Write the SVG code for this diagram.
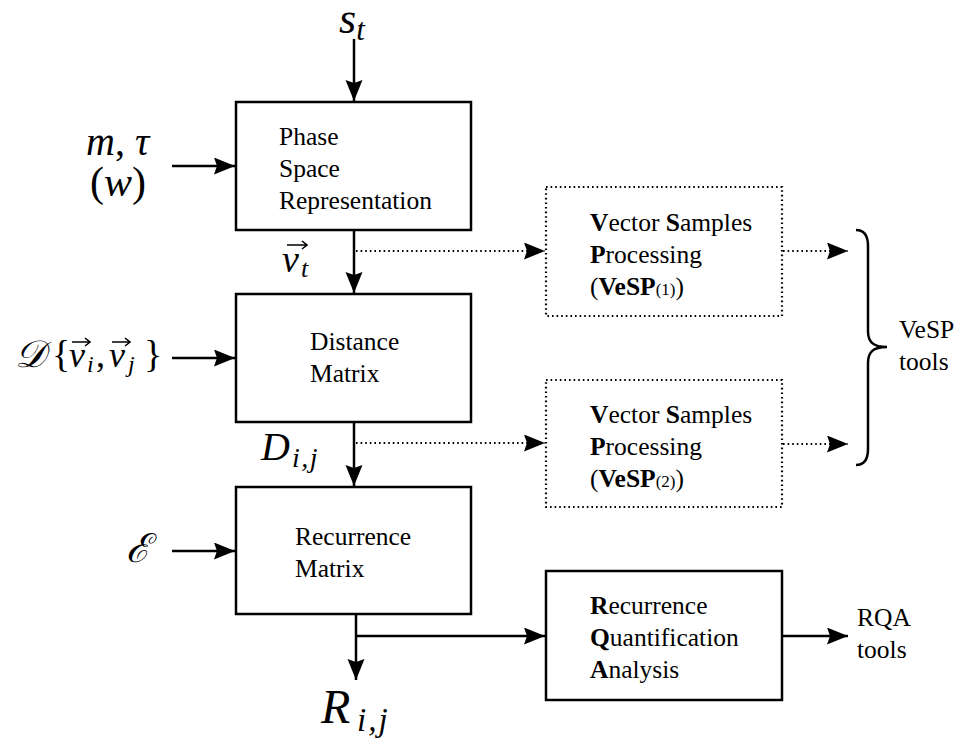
<svg xmlns="http://www.w3.org/2000/svg" width="961" height="743" viewBox="0 0 961 743">
<style>
.box{fill:#fff;stroke:#000;stroke-width:2.5}
.dbox{fill:none;stroke:#000;stroke-width:2.2;stroke-dasharray:1.6 3}
.ln{fill:none;stroke:#000;stroke-width:2.5}
.dl{fill:none;stroke:#000;stroke-width:2.2;stroke-dasharray:1.6 3}
.va{fill:none;stroke:#000;stroke-width:1.6}
.t{font-size:25.5px;fill:#000}
.b{font-weight:bold}
.m{font-style:italic;fill:#000}
.r{font-style:normal;fill:#000}
</style>
<defs>
<marker id="ah" markerWidth="22" markerHeight="18" refX="21" refY="8.5" orient="auto" markerUnits="userSpaceOnUse">
<path d="M0,0 L21,8.5 L0,17 L3,8.5 z" fill="#000"/>
</marker>
</defs>
<g id="connectors">
<line class="ln" x1="354" y1="39" x2="354" y2="101" marker-end="url(#ah)"/>
<line class="ln" x1="172" y1="166" x2="235" y2="166" marker-end="url(#ah)"/>
<line class="ln" x1="354" y1="230" x2="354" y2="293" marker-end="url(#ah)"/>
<line class="ln" x1="172" y1="358" x2="235" y2="358" marker-end="url(#ah)"/>
<line class="ln" x1="354" y1="422" x2="354" y2="486" marker-end="url(#ah)"/>
<line class="ln" x1="172" y1="551" x2="235" y2="551" marker-end="url(#ah)"/>
<line class="ln" x1="356" y1="614" x2="356" y2="680" marker-end="url(#ah)"/>
<line class="ln" x1="356" y1="636" x2="545" y2="636" marker-end="url(#ah)"/>
<line class="ln" x1="782" y1="636" x2="848" y2="636" marker-end="url(#ah)"/>
<line class="dl" x1="356" y1="251" x2="545" y2="251" marker-end="url(#ah)"/>
<line class="dl" x1="356" y1="443" x2="545" y2="443" marker-end="url(#ah)"/>
<line class="dl" x1="783" y1="251" x2="848" y2="251" marker-end="url(#ah)"/>
<line class="dl" x1="783" y1="444" x2="848" y2="444" marker-end="url(#ah)"/>
<path class="ln" d="M856 230 C865 230 868 236 868 246 L868 331 C868 342 873 347 887 347 C873 347 868 352 868 363 L868 449 C868 459 865 465 856 465"/>
</g>
<g id="phase-space" font-family="Liberation Serif, Times New Roman, serif">
<rect class="box" x="236" y="102" width="235" height="128"/>
<text class="t" x="279" y="145">Phase</text>
<text class="t" x="279" y="177">Space</text>
<text class="t" x="279" y="209">Representation</text>
</g>
<g id="distance-matrix" font-family="Liberation Serif, Times New Roman, serif">
<rect class="box" x="236" y="294" width="235" height="128"/>
<text class="t" x="310" y="350">Distance</text>
<text class="t" x="310" y="382">Matrix</text>
</g>
<g id="recurrence-matrix" font-family="Liberation Serif, Times New Roman, serif">
<rect class="box" x="236" y="487" width="235" height="127"/>
<text class="t" x="295" y="545">Recurrence</text>
<text class="t" x="295" y="577">Matrix</text>
</g>
<g id="vesp1" font-family="Liberation Serif, Times New Roman, serif">
<rect class="dbox" x="546" y="187" width="236" height="129"/>
<text class="t" x="590" y="231"><tspan class="b">V</tspan>ector <tspan class="b">S</tspan>amples</text>
<text class="t" x="590" y="263"><tspan class="b">P</tspan>rocessing</text>
<text class="t" x="590" y="295">(<tspan class="b">VeSP</tspan><tspan font-size="17">(1)</tspan>)</text>
</g>
<g id="vesp2" font-family="Liberation Serif, Times New Roman, serif">
<rect class="dbox" x="546" y="380" width="236" height="127"/>
<text class="t" x="590" y="423"><tspan class="b">V</tspan>ector <tspan class="b">S</tspan>amples</text>
<text class="t" x="590" y="455"><tspan class="b">P</tspan>rocessing</text>
<text class="t" x="590" y="487">(<tspan class="b">VeSP</tspan><tspan font-size="17">(2)</tspan>)</text>
</g>
<g id="rqa" font-family="Liberation Serif, Times New Roman, serif">
<rect class="box" x="546" y="571" width="236" height="129"/>
<text class="t" x="590" y="614"><tspan class="b">R</tspan>ecurrence</text>
<text class="t" x="590" y="646"><tspan class="b">Q</tspan>uantification</text>
<text class="t" x="590" y="678"><tspan class="b">A</tspan>nalysis</text>
</g>
<g id="vesp-tools" font-family="Liberation Serif, Times New Roman, serif">
<text class="t" x="899" y="338">VeSP</text>
<text class="t" x="899" y="370">tools</text>
</g>
<g id="rqa-tools" font-family="Liberation Serif, Times New Roman, serif">
<text class="t" x="857" y="626">RQA</text>
<text class="t" x="857" y="658">tools</text>
</g>
<g id="labels" font-family="Liberation Serif, Times New Roman, serif">
<text class="m" x="339" y="33" font-size="44">s<tspan font-size="31" dy="7">t</tspan></text>
<text class="m" x="86" y="155" font-size="40">m<tspan class="r">,</tspan> τ</text>
<text class="r" x="90" y="196" font-size="42">(<tspan class="m">w</tspan>)</text>
<text class="m" x="282" y="272" font-size="38">v</text>
<text class="m" x="301" y="277" font-size="26">t</text>
<path class="va" d="M287 245 H307 M302 241 L307 245 L302 249"/>
<text class="m" x="15" y="367" font-size="38">𝒟</text>
<text class="r" x="52" y="367" font-size="38">{</text>
<text class="m" x="69" y="367" font-size="36">v</text>
<text class="m" x="87" y="372" font-size="24">i</text>
<text class="r" x="96" y="367" font-size="36">,</text>
<text class="m" x="109" y="367" font-size="36">v</text>
<text class="m" x="128" y="372" font-size="24">j</text>
<text class="r" x="144" y="367" font-size="38">}</text>
<path class="va" d="M72 342 H90 M85 338 L90 342 L85 346 M112 342 H130 M125 338 L130 342 L125 346"/>
<text class="m" x="261" y="460" font-size="40">D</text>
<text class="m" x="292" y="467" font-size="28" letter-spacing="1.5">i,j</text>
<text class="m" x="321" y="723" font-size="48">R</text>
<text class="m" x="357" y="731" font-size="33" letter-spacing="2">i,j</text>
<text class="m" x="126" y="562" font-size="40">ℰ</text>
</g>
</svg>
